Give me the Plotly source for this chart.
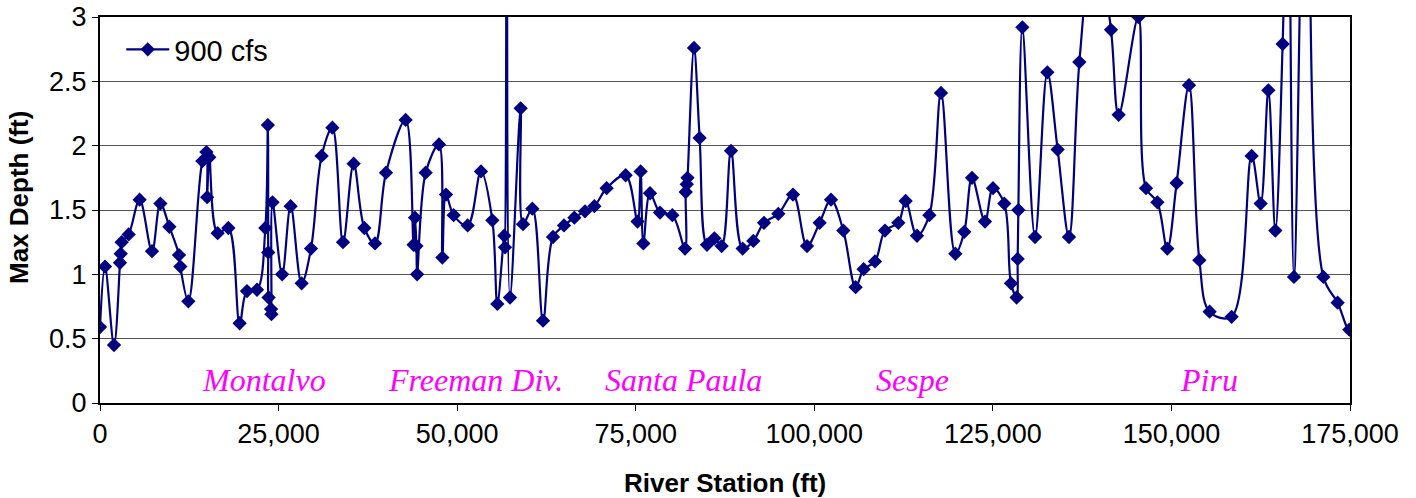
import plotly.graph_objects as go

# River station (ft) and computed maximum depth (ft) for the 900 cfs run
station = [
    0, 700, 1960, 2800, 2900, 3030, 4010, 5550, 7280, 8450, 9710, 11060, 11250, 12370,
    14330, 14900, 15000, 15300, 16470, 17970, 19550, 20580, 21980, 23150,
    23500, 23550, 23600, 23950, 24000, 24150, 25500, 26690, 28230, 29540,
    31030, 32530, 34020, 35510, 37010, 38500, 40040, 42790, 43900, 44100,
    44300, 44400, 45590, 47460, 47930, 48440, 49510, 51470, 53340, 54930,
    55630, 56600, 56700, 57000, 57400, 58890, 59220, 60530, 62020, 63420,
    64960, 66410, 67900, 69210, 70930, 73590, 75260, 75690, 76070, 77000,
    78400, 80130, 81900, 82000, 82150, 82250, 83160, 83950, 84980, 86010,
    87030, 88340, 89970, 91470, 92960, 94970, 97020, 98980, 100750, 102340,
    104070, 105790, 106910, 108500, 109900, 111770, 112790, 114380, 116110,
    117740, 119750, 121000, 122080, 123900, 125020, 126600, 127540, 128330,
    128470, 128570, 129130, 130900, 132630, 134070, 135660, 137110, 139300,
    141540, 142610, 145370, 146440, 148030, 149420, 150730, 152460, 153910,
    155350, 158430, 161230, 162490, 163570, 164550, 165570, 166300, 167160,
    168900, 171270, 173270, 174900, 176000,
]
max_depth = [
    0.59, 1.06, 0.45, 1.09, 1.16, 1.25, 1.31, 1.58, 1.18, 1.55, 1.37, 1.15, 1.06, 0.79,
    1.88, 1.95, 1.60, 1.91, 1.32, 1.36, 0.62, 0.87, 0.88, 1.36,
    2.16, 1.17, 0.82, 0.73, 0.69, 1.56, 1.00, 1.53, 0.93, 1.20,
    1.92, 2.14, 1.25, 1.86, 1.36, 1.24, 1.79, 2.20, 1.23, 1.44,
    1.22, 1.00, 1.79, 2.01, 1.13, 1.62, 1.46, 1.38, 1.80, 1.42,
    0.77, 1.30, 1.21, 6.00, 0.82, 2.29, 1.39, 1.51, 0.64, 1.29,
    1.38, 1.44, 1.49, 1.53, 1.67, 1.77, 1.41, 1.80, 1.24, 1.63,
    1.48, 1.46, 1.20, 1.64, 1.70, 1.75, 2.76, 2.06, 1.23, 1.28,
    1.22, 1.96, 1.20, 1.26, 1.40, 1.47, 1.62, 1.22, 1.40, 1.58,
    1.34, 0.90, 1.04, 1.10, 1.34, 1.40, 1.57, 1.30, 1.46,
    2.41, 1.16, 1.33, 1.75, 1.41, 1.67, 1.55, 0.93, 0.82,
    1.12, 1.50, 2.92, 1.29, 2.57, 1.97, 1.29, 2.65, 3.70,
    2.90, 2.24, 3.00, 1.67, 1.56, 1.20, 1.71, 2.47, 1.11,
    0.71, 0.67, 1.92, 1.55, 2.43, 1.34, 2.79, 4.50, 0.98,
    5.00, 0.98, 0.78, 0.57, 1.90,
]

# Reach names written along the bottom of the plot
reach_names = ["Montalvo", "Freeman Div.", "Santa Paula", "Sespe", "Piru"]
reach_centers = [22960, 52570, 81690, 113680, 155190]
reach_label_depth = 0.18

x_ticks = [0, 25000, 50000, 75000, 100000, 125000, 150000, 175000]
y_ticks = [0, 0.5, 1, 1.5, 2, 2.5, 3]
y_tick_labels = ["0", "0.5", "1", "1.5", "2", "2.5", "3"]

NAVY = "#000080"
AXIS_FONT = "Liberation Sans, Arial, sans-serif"

fig = go.Figure()
fig.add_trace(go.Scatter(
    x=station, y=max_depth, name="900 cfs", mode="lines+markers",
    line=dict(color=NAVY, width=2.2, shape="spline", smoothing=1.0),
    marker=dict(symbol="diamond", size=11, color=NAVY),
))

for name, xc in zip(reach_names, reach_centers):
    fig.add_annotation(
        x=xc, y=reach_label_depth, xref="x", yref="y", text=name, showarrow=False,
        font=dict(family="Liberation Serif, Times New Roman, serif", size=32,
                  color="#FF00FF", style="italic"),
        xanchor="center", yanchor="middle",
    )

fig.add_annotation(
    x=0, y=0.5, xref="paper", yref="paper", text="<b>Max Depth (ft)</b>",
    showarrow=False, textangle=-90, xanchor="center", yanchor="middle",
    xshift=-81, yshift=12, font=dict(family=AXIS_FONT, size=26, color="black"),
)
fig.add_annotation(
    x=0.5, y=0, xref="paper", yref="paper", text="<b>River Station (ft)</b>",
    showarrow=False, xanchor="center", yanchor="middle",
    yshift=-80, font=dict(family=AXIS_FONT, size=26, color="black"),
)

fig.update_xaxes(
    range=[0, 175000], tickvals=x_ticks, tickformat=",d", automargin=False,
    ticks="outside", ticklen=6, tickwidth=1, tickcolor="black",
    showgrid=False, zeroline=False,
    showline=True, linecolor="black", linewidth=2, mirror=True,
    tickfont=dict(family=AXIS_FONT, size=27, color="black"),
)
fig.update_yaxes(
    range=[0, 3], tickvals=y_ticks, ticktext=y_tick_labels, automargin=False,
    ticks="outside", ticklen=6, tickwidth=1, tickcolor="black",
    showgrid=True, gridcolor="#555555", gridwidth=1, zeroline=False,
    showline=True, linecolor="black", linewidth=2, mirror=True,
    tickfont=dict(family=AXIS_FONT, size=27, color="black"),
)

fig.update_layout(
    width=1416, height=498,
    margin=dict(l=100, r=66, t=17, b=95),
    plot_bgcolor="white", paper_bgcolor="white",
    showlegend=True,
    legend=dict(
        x=0.017, y=0.982, xanchor="left", yanchor="top",
        bgcolor="rgba(0,0,0,0)", itemwidth=43,
        font=dict(family=AXIS_FONT, size=29, color="black"),
    ),
)

fig.write_html("out.html")
